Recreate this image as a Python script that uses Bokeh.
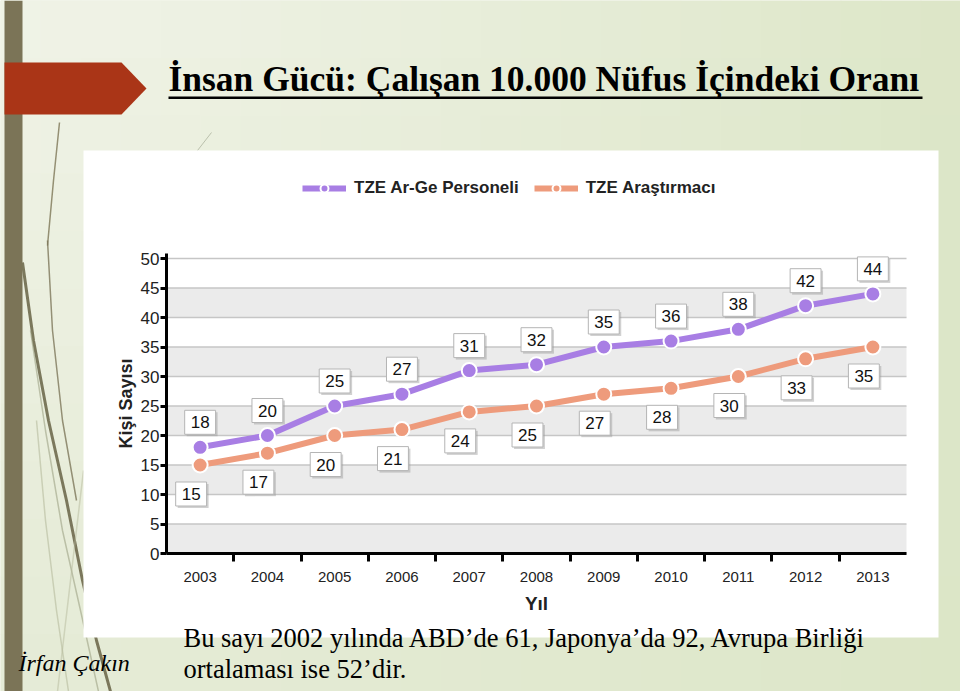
from bokeh.plotting import figure
from bokeh.models import (Range1d, FixedTicker, ColumnDataSource, Legend, LegendItem)
from bokeh.core.properties import value
from bokeh.embed import file_html
from bokeh.resources import INLINE

# ---------------- data ----------------
years = [2003, 2004, 2005, 2006, 2007, 2008, 2009, 2010, 2011, 2012, 2013]
arge_personeli = [18, 20, 25, 27, 31, 32, 35, 36, 38, 42, 44]
arastirmaci = [15, 17, 20, 21, 24, 25, 27, 28, 30, 33, 35]
y_ticks = [0, 5, 10, 15, 20, 25, 30, 35, 40, 45, 50]
series_names = ["TZE Ar-Ge Personeli", "TZE Araştırmacı"]
title_text = "İnsan Gücü: Çalışan 10.000 Nüfus İçindeki Oranı"
note_lines = ["Bu sayı 2002 yılında ABD’de 61, Japonya’da 92, Avrupa Birliği",
              "ortalaması ise 52’dir."]
author_text = "İrfan Çakın"

# ---------------- styling / layout ----------------
PURPLE = "#a87ee4"
ORANGE = "#ee9b7c"
SANS = "Liberation Sans"
SERIF = "Liberation Serif"
W, H = 960, 691

# chart area inside the slide (canvas pixels)
X_LEFT_PX, X_RIGHT_PX = 166, 906
Y_ZERO_PX, Y_FIFTY_PX = 553, 258
x_lo, x_hi = years[0] - 0.5, years[-1] + 0.5
xu = (X_RIGHT_PX - X_LEFT_PX) / (x_hi - x_lo)
yu = (Y_ZERO_PX - Y_FIFTY_PX) / 50.0

p = figure(width=W, height=H, output_backend="svg", toolbar_location=None,
           x_range=Range1d(x_lo - X_LEFT_PX / xu, x_hi + (W - X_RIGHT_PX) / xu),
           y_range=Range1d(-(H - Y_ZERO_PX) / yu, Y_ZERO_PX / yu),
           min_border=0)
p.title.visible = False
p.outline_line_color = None
p.background_fill_color = "#e5ebd5"
p.border_fill_color = "#e5ebd5"
# pixel coordinate system for slide decoration (y grows downward)
p.extra_x_ranges = {"px": Range1d(0, W)}
p.extra_y_ranges = {"px": Range1d(H, 0)}
PX = dict(x_range_name="px", y_range_name="px")


def deco_quad(l, r, t, b, color, alpha=1.0):
    p.quad(left=l, right=r, top=t, bottom=b, fill_color=color,
           fill_alpha=alpha, line_color=None, **PX)


def deco_line(xs, ys, color, width, alpha=1.0):
    p.line(xs, ys, line_color=color, line_width=width, line_alpha=alpha, **PX)


def slide_text(x, y, text, font, size, style="normal"):
    p.text(x=[x], y=[y], text=[text], text_font=value(font),
           text_font_style=style, text_font_size=size, text_color="black",
           text_baseline="alphabetic", text_align="left", **PX)


# soft gradient of the slide background (light top-left -> greener bottom-right)
NC, NR = 24, 12
c0 = (240, 243, 231)   # top-left
c1 = (220, 230, 199)   # right
c2 = (229, 235, 214)   # bottom-left
gl, gr, gt, gb, gcol = [], [], [], [], []
for i in range(NC):
    for j in range(NR):
        fx, fy = (i + 0.5) / NC, (j + 0.5) / NR
        fx2 = fx ** 1.3
        rgb = [c0[k] + (c1[k] - c0[k]) * fx2 + (c2[k] - c0[k]) * fy * (1 - fx2) for k in range(3)]
        gl.append(W * i / NC)
        gr.append(W * (i + 1) / NC + 1)
        gt.append(H * j / NR)
        gb.append(H * (j + 1) / NR + 1)
        gcol.append("#%02x%02x%02x" % tuple(int(round(v)) for v in rgb))
p.quad(left=gl, right=gr, top=gt, bottom=gb, fill_color=gcol, line_color=None, **PX)

# decorative thin strokes on the left
deco_line([59, 53, 47], [122, 180, 245], "#8a8466", 1.5, 0.9)
deco_line([22, 33, 48, 66, 82, 96, 110], [262, 340, 420, 500, 580, 640, 691], "#6f6a4e", 3, 0.9)
deco_line([47, 52, 62, 76], [240, 330, 420, 500], "#7d775a", 1.5, 0.8)
deco_line([30, 45, 62, 80, 98], [330, 430, 530, 610, 691], "#9da283", 1.5, 0.6)
deco_line([36, 45, 56, 68], [420, 520, 610, 691], "#b5ba9c", 1.5, 0.6)
deco_line([83, 70, 57], [470, 580, 691], "#b5ba9c", 1.5, 0.5)
deco_line([211, 197], [132, 150], "#9aa08a", 1, 0.6)

# left vertical bar and red arrow
deco_quad(4, 22, 0, H, "#7b7457")
p.patch([4, 121, 146, 121, 4], [62, 62, 88, 114, 114],
        fill_color="#aa3517", line_color=None, **PX)

# white chart panel
deco_quad(83, 938, 150, 637, "white")

# title with underline
slide_text(168, 78, title_text, SERIF, "35.5px", "bold")
deco_quad(168, 922, 96, 98.5, "black")

# bottom note and author
for i, line in enumerate(note_lines):
    slide_text(183, 637 + 31 * i, line, SERIF, "26.5px")
slide_text(18, 662, author_text, SERIF, "24px", "italic")

# ---------------- grid (bands + lines) ----------------
p.xgrid.visible = False
p.ygrid.visible = False
p.quad(left=x_lo, right=x_hi, bottom=y_ticks[0:-1:2], top=y_ticks[1::2],
       fill_color="#ebebeb", line_color=None)
p.segment(x0=x_lo, x1=x_hi, y0=y_ticks, y1=y_ticks, line_color="#c6c6c6", line_width=1.5)

# ---------------- axes (fixed inside the slide) ----------------
xa = p.xaxis[0]
xa.fixed_location = 0
xa.bounds = (x_lo, x_hi)
xa.ticker = FixedTicker(ticks=years, minor_ticks=[y + 0.5 for y in years[:-1]])
xa.major_tick_out = 0
xa.major_tick_in = 0
xa.minor_tick_out = 8
xa.minor_tick_in = 0
xa.minor_tick_line_width = 3
xa.minor_tick_line_color = "black"
xa.axis_line_width = 3
xa.axis_line_color = "black"
xa.major_label_text_font = SANS
xa.major_label_text_font_size = "15px"
xa.major_label_text_color = "#222222"
xa.major_label_standoff = 10
xa.axis_label = "Yıl"
xa.axis_label_text_font = SANS
xa.axis_label_text_font_style = "bold"
xa.axis_label_text_font_size = "19px"
xa.axis_label_text_color = "#222222"
xa.axis_label_standoff = 8

ya = p.yaxis[0]
ya.fixed_location = x_lo
ya.bounds = (0, 50.8)
ya.ticker = FixedTicker(ticks=y_ticks)
ya.major_tick_out = 6
ya.major_tick_in = 0
ya.minor_tick_out = 0
ya.major_tick_line_width = 3
ya.axis_line_width = 3
ya.axis_line_color = "black"
ya.major_label_text_font = SANS
ya.major_label_text_font_size = "17px"
ya.major_label_text_color = "#222222"
ya.major_label_standoff = 1
ya.axis_label = "Kişi Sayısı"
ya.axis_label_text_font = SANS
ya.axis_label_text_font_style = "bold"
ya.axis_label_text_font_size = "18px"
ya.axis_label_text_color = "#222222"
ya.axis_label_standoff = 2

# ---------------- series ----------------
src1 = ColumnDataSource(dict(x=years, y=arge_personeli, t=[str(v) for v in arge_personeli]))
src2 = ColumnDataSource(dict(x=years, y=arastirmaci, t=[str(v) for v in arastirmaci]))

l2 = p.line("x", "y", source=src2, line_color=ORANGE, line_width=6)
s2 = p.scatter("x", "y", source=src2, size=15, fill_color=ORANGE, line_color="white", line_width=2)
l1 = p.line("x", "y", source=src1, line_color=PURPLE, line_width=6)
s1 = p.scatter("x", "y", source=src1, size=15, fill_color=PURPLE, line_color="white", line_width=2)

# data labels (with a soft shadow box behind)
for src, dx, dy in [(src1, 0, -25), (src2, -9, 29)]:
    p.text("x", "y", text="t", source=src, x_offset=dx + 2, y_offset=dy + 2,
           text_align="center", text_baseline="middle", text_alpha=0,
           text_font=value(SANS), text_font_size="17px",
           background_fill_color="#9a9a9a", background_fill_alpha=0.45, padding=6)
    p.text("x", "y", text="t", source=src, x_offset=dx, y_offset=dy,
           text_align="center", text_baseline="middle",
           text_font=value(SANS), text_font_size="17px", text_color="#111111",
           background_fill_color="white", border_line_color="#b5b5b5",
           border_line_width=1, padding=6)

legend = Legend(items=[LegendItem(label=series_names[0], renderers=[l1, s1]),
                       LegendItem(label=series_names[1], renderers=[l2, s2])],
                orientation="horizontal", location=(302, 493),
                glyph_width=44, glyph_height=20, label_standoff=8, spacing=15,
                padding=0, margin=0, border_line_color=None, background_fill_alpha=0,
                label_text_font=SANS, label_text_font_style="bold",
                label_text_font_size="17px", label_text_color="#222222")
p.add_layout(legend)

open("out.html", "w").write(file_html(p, INLINE))
